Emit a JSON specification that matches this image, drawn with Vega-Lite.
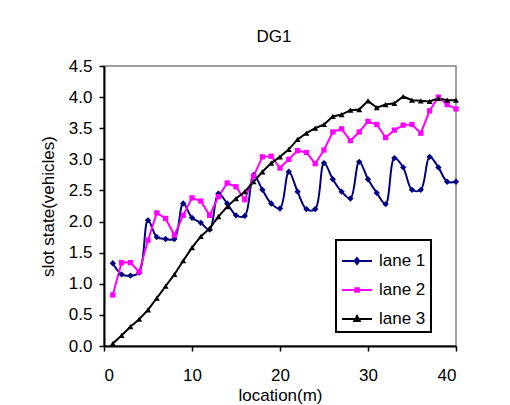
{
  "$schema": "https://vega.github.io/schema/vega-lite/v6.json",
  "width": 352,
  "height": 280,
  "autosize": "none",
  "padding": {"left": 104, "top": 66, "right": 54, "bottom": 59},
  "background": "white",
  "title": {"text": "DG1", "fontSize": 17, "fontWeight": "normal", "font": "Liberation Sans", "color": "black", "dx": -6, "offset": 11},
  "config": {
    "font": "Liberation Sans",
    "view": {"stroke": "#808080", "strokeWidth": 1.5},
    "axis": {"domainColor": "black", "domainWidth": 2, "tickColor": "black", "tickWidth": 1.5, "tickSize": 5, "labelFontSize": 17, "labelColor": "black", "titleFontSize": 17, "titleFontWeight": "normal", "titleColor": "black", "grid": false, "labelFont": "Liberation Sans", "titleFont": "Liberation Sans"}
  },
  "data": {"values": [
    {"x":1,"lane":"lane 1","y":1.33},{"x":2,"lane":"lane 1","y":1.15},{"x":3,"lane":"lane 1","y":1.13},{"x":4,"lane":"lane 1","y":1.18},{"x":5,"lane":"lane 1","y":2.02},{"x":6,"lane":"lane 1","y":1.75},{"x":7,"lane":"lane 1","y":1.72},{"x":8,"lane":"lane 1","y":1.72},{"x":9,"lane":"lane 1","y":2.29},{"x":10,"lane":"lane 1","y":2.06},
    {"x":11,"lane":"lane 1","y":1.98},{"x":12,"lane":"lane 1","y":1.87},{"x":13,"lane":"lane 1","y":2.45},{"x":14,"lane":"lane 1","y":2.29},{"x":15,"lane":"lane 1","y":2.10},{"x":16,"lane":"lane 1","y":2.09},{"x":17,"lane":"lane 1","y":2.75},{"x":18,"lane":"lane 1","y":2.51},{"x":19,"lane":"lane 1","y":2.29},{"x":20,"lane":"lane 1","y":2.21},
    {"x":21,"lane":"lane 1","y":2.80},{"x":22,"lane":"lane 1","y":2.48},{"x":23,"lane":"lane 1","y":2.20},{"x":24,"lane":"lane 1","y":2.20},{"x":25,"lane":"lane 1","y":2.94},{"x":26,"lane":"lane 1","y":2.68},{"x":27,"lane":"lane 1","y":2.48},{"x":28,"lane":"lane 1","y":2.37},{"x":29,"lane":"lane 1","y":2.96},{"x":30,"lane":"lane 1","y":2.68},
    {"x":31,"lane":"lane 1","y":2.46},{"x":32,"lane":"lane 1","y":2.28},{"x":33,"lane":"lane 1","y":3.02},{"x":34,"lane":"lane 1","y":2.87},{"x":35,"lane":"lane 1","y":2.51},{"x":36,"lane":"lane 1","y":2.51},{"x":37,"lane":"lane 1","y":3.04},{"x":38,"lane":"lane 1","y":2.87},{"x":39,"lane":"lane 1","y":2.64},{"x":40,"lane":"lane 1","y":2.64},
    {"x":1,"lane":"lane 2","y":0.82},{"x":2,"lane":"lane 2","y":1.34},{"x":3,"lane":"lane 2","y":1.34},{"x":4,"lane":"lane 2","y":1.19},{"x":5,"lane":"lane 2","y":1.70},{"x":6,"lane":"lane 2","y":2.14},{"x":7,"lane":"lane 2","y":2.05},{"x":8,"lane":"lane 2","y":1.78},{"x":9,"lane":"lane 2","y":2.10},{"x":10,"lane":"lane 2","y":2.38},
    {"x":11,"lane":"lane 2","y":2.33},{"x":12,"lane":"lane 2","y":2.10},{"x":13,"lane":"lane 2","y":2.40},{"x":14,"lane":"lane 2","y":2.62},{"x":15,"lane":"lane 2","y":2.56},{"x":16,"lane":"lane 2","y":2.35},{"x":17,"lane":"lane 2","y":2.73},{"x":18,"lane":"lane 2","y":3.04},{"x":19,"lane":"lane 2","y":3.05},{"x":20,"lane":"lane 2","y":2.86},
    {"x":21,"lane":"lane 2","y":3.00},{"x":22,"lane":"lane 2","y":3.14},{"x":23,"lane":"lane 2","y":3.11},{"x":24,"lane":"lane 2","y":2.93},{"x":25,"lane":"lane 2","y":3.15},{"x":26,"lane":"lane 2","y":3.44},{"x":27,"lane":"lane 2","y":3.49},{"x":28,"lane":"lane 2","y":3.30},{"x":29,"lane":"lane 2","y":3.44},{"x":30,"lane":"lane 2","y":3.61},
    {"x":31,"lane":"lane 2","y":3.56},{"x":32,"lane":"lane 2","y":3.35},{"x":33,"lane":"lane 2","y":3.47},{"x":34,"lane":"lane 2","y":3.55},{"x":35,"lane":"lane 2","y":3.56},{"x":36,"lane":"lane 2","y":3.42},{"x":37,"lane":"lane 2","y":3.78},{"x":38,"lane":"lane 2","y":4.00},{"x":39,"lane":"lane 2","y":3.88},{"x":40,"lane":"lane 2","y":3.81},
    {"x":1,"lane":"lane 3","y":0.04},{"x":2,"lane":"lane 3","y":0.17},{"x":3,"lane":"lane 3","y":0.31},{"x":4,"lane":"lane 3","y":0.43},{"x":5,"lane":"lane 3","y":0.58},{"x":6,"lane":"lane 3","y":0.77},{"x":7,"lane":"lane 3","y":0.96},{"x":8,"lane":"lane 3","y":1.15},{"x":9,"lane":"lane 3","y":1.37},{"x":10,"lane":"lane 3","y":1.58},
    {"x":11,"lane":"lane 3","y":1.76},{"x":12,"lane":"lane 3","y":1.89},{"x":13,"lane":"lane 3","y":2.08},{"x":14,"lane":"lane 3","y":2.24},{"x":15,"lane":"lane 3","y":2.37},{"x":16,"lane":"lane 3","y":2.48},{"x":17,"lane":"lane 3","y":2.64},{"x":18,"lane":"lane 3","y":2.80},{"x":19,"lane":"lane 3","y":2.94},{"x":20,"lane":"lane 3","y":3.04},
    {"x":21,"lane":"lane 3","y":3.16},{"x":22,"lane":"lane 3","y":3.32},{"x":23,"lane":"lane 3","y":3.42},{"x":24,"lane":"lane 3","y":3.50},{"x":25,"lane":"lane 3","y":3.56},{"x":26,"lane":"lane 3","y":3.69},{"x":27,"lane":"lane 3","y":3.72},{"x":28,"lane":"lane 3","y":3.79},{"x":29,"lane":"lane 3","y":3.80},{"x":30,"lane":"lane 3","y":3.94},
    {"x":31,"lane":"lane 3","y":3.83},{"x":32,"lane":"lane 3","y":3.88},{"x":33,"lane":"lane 3","y":3.90},{"x":34,"lane":"lane 3","y":4.01},{"x":35,"lane":"lane 3","y":3.95},{"x":36,"lane":"lane 3","y":3.94},{"x":37,"lane":"lane 3","y":3.93},{"x":38,"lane":"lane 3","y":3.98},{"x":39,"lane":"lane 3","y":3.95},{"x":40,"lane":"lane 3","y":3.95}
  ]},
  "encoding": {
    "x": {"field": "x", "type": "quantitative", "scale": {"domain": [0, 40], "nice": false}, "axis": {"values": [0, 10, 20, 30, 40], "title": "location(m)", "labelPadding": 16, "titlePadding": 4}},
    "y": {"field": "y", "type": "quantitative", "scale": {"domain": [0, 4.5], "nice": false}, "axis": {"values": [0, 0.5, 1, 1.5, 2, 2.5, 3, 3.5, 4, 4.5], "format": ".1f", "title": "slot state(vehicles)", "labelPadding": 7, "titlePadding": 11}},
    "color": {"field": "lane", "type": "nominal", "scale": {"domain": ["lane 1", "lane 2", "lane 3"], "range": ["#000080", "#FF00FF", "#000000"]},
      "legend": {"title": null, "orient": "none", "legendX": 232, "legendY": 174, "padding": 5, "rowPadding": 5, "symbolSize": 900, "labelOffset": 6, "labelFontSize": 17, "labelColor": "black", "labelFont": "Liberation Sans", "strokeColor": "black", "fillColor": "white",
        "encode": {
          "legend": {"update": {"strokeWidth": {"value": 2}}},
          "symbols": {"update": {
            "shape": {"signal": "datum.value === 'lane 1' ? 'M-1,0L1,0M0,-0.2L0.15,0L0,0.2L-0.15,0Z' : datum.value === 'lane 2' ? 'M-1,0L1,0M-0.12,-0.12L0.12,-0.12L0.12,0.12L-0.12,0.12Z' : 'M-1,0L1,0M0,-0.2L0.18,0.13L-0.18,0.13Z'"},
            "size": {"value": 900},
            "stroke": {"scale": "color", "field": "value"},
            "fill": {"scale": "color", "field": "value"},
            "strokeWidth": {"value": 2},
            "opacity": {"value": 1}
          }}
        }}}
  },
  "layer": [
    {"transform": [{"filter": "datum.lane === 'lane 1'"}], "mark": {"type": "line", "interpolate": "catmull-rom", "strokeWidth": 2}},
    {"transform": [{"filter": "datum.lane === 'lane 2'"}], "mark": {"type": "line", "strokeWidth": 2}},
    {"transform": [{"filter": "datum.lane === 'lane 3'"}], "mark": {"type": "line", "strokeWidth": 2}},
    {"transform": [{"filter": "datum.lane === 'lane 1'"}], "mark": {"type": "point", "filled": true, "opacity": 1, "size": 40, "shape": "diamond"}},
    {"transform": [{"filter": "datum.lane === 'lane 2'"}], "mark": {"type": "point", "filled": true, "opacity": 1, "size": 28, "shape": "square"}},
    {"transform": [{"filter": "datum.lane === 'lane 3'"}], "mark": {"type": "point", "filled": true, "opacity": 1, "size": 36, "shape": "triangle-up"}}
  ]
}
